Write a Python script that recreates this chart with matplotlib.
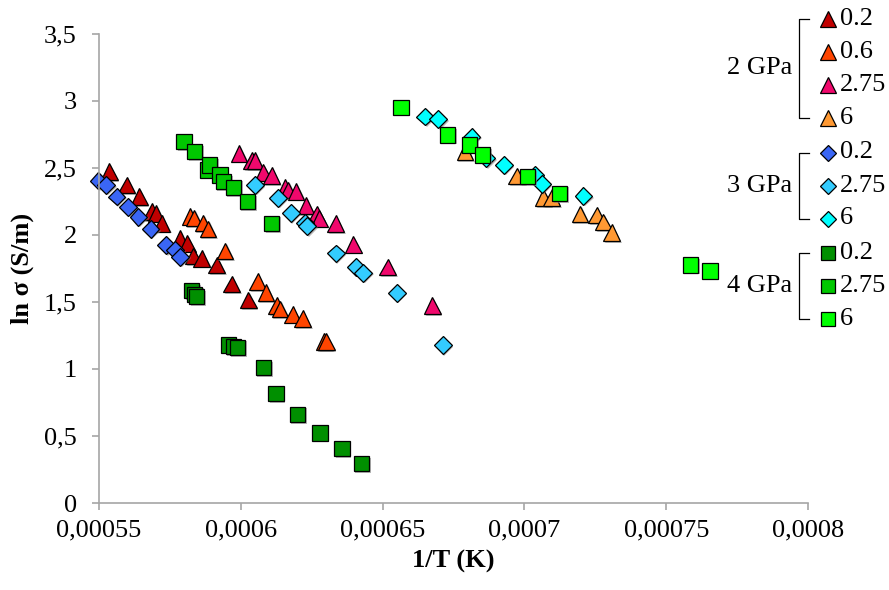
import matplotlib
matplotlib.use("Agg")
from matplotlib import pyplot as plt
from matplotlib import patheffects as pe
from matplotlib.ticker import FixedLocator, FixedFormatter

plt.rcParams['font.family'] = ['Liberation Serif', 'DejaVu Serif']

# 2 GPa
x_2_02 = [0.0005536, 0.0005598, 0.0005642, 0.0005686, 0.0005701, 0.0005721, 0.0005786,
          0.0005811, 0.0005833, 0.0005862, 0.0005915, 0.0005968, 0.0006026]
y_2_02 = [2.47, 2.371, 2.284, 2.172, 2.160, 2.085, 1.973, 1.936, 1.841, 1.824, 1.774, 1.632, 1.513]

x_2_06 = [0.0005821, 0.0005835, 0.0005867, 0.0005884, 0.0005944, 0.0006060, 0.0006089,
          0.0006127, 0.0006138, 0.0006183, 0.0006218, 0.0006294, 0.0006302]
y_2_06 = [2.136, 2.125, 2.087, 2.043, 1.878, 1.651, 1.569, 1.472, 1.446, 1.406, 1.375, 1.203, 1.203]

x_2_275 = [0.0005994, 0.0006038, 0.0006050, 0.0006079, 0.0006109, 0.0006156, 0.0006167,
           0.0006195, 0.0006230, 0.0006268, 0.0006277, 0.0006335, 0.0006397, 0.0006518, 0.0006675]
y_2_275 = [2.607, 2.552, 2.552, 2.466, 2.440, 2.354, 2.334, 2.324, 2.216, 2.154, 2.122,
           2.082, 1.928, 1.759, 1.470]

x_2_6 = [0.0006791, 0.0006973, 0.0007067, 0.0007096, 0.0007196, 0.0007255, 0.0007278, 0.0007308]
y_2_6 = [2.619, 2.438, 2.276, 2.276, 2.154, 2.147, 2.095, 2.015]

# 3 GPa
x_3_02 = [0.0005498, 0.0005525, 0.0005562, 0.0005603, 0.0005639, 0.0005682, 0.0005736,
          0.0005768, 0.0005786]
y_3_02 = [2.403, 2.371, 2.284, 2.209, 2.134, 2.043, 1.923, 1.886, 1.836]

x_3_275 = [0.0006050, 0.0006132, 0.0006176, 0.0006226, 0.0006234, 0.0006335, 0.0006406,
           0.0006432, 0.0006550, 0.0006712]
y_3_275 = [2.371, 2.276, 2.160, 2.085, 2.065, 1.861, 1.761, 1.716, 1.567, 1.177]

x_3_6 = [0.0006650, 0.0006696, 0.0006814, 0.0006865, 0.0006928, 0.0007037, 0.0007061, 0.0007208]
y_3_6 = [2.881, 2.861, 2.731, 2.570, 2.520, 2.446, 2.376, 2.289]

# 4 GPa
x_4_02 = [0.0005827, 0.0005838, 0.0005844, 0.0005956, 0.0005974, 0.0005988, 0.0006079,
          0.0006124, 0.0006199, 0.0006279, 0.0006357, 0.0006425]
y_4_02 = [1.582, 1.557, 1.537, 1.177, 1.164, 1.160, 1.010, 0.816, 0.660, 0.522, 0.406, 0.294]

x_4_275 = [0.0005800, 0.0005838, 0.0005883, 0.0005889, 0.0005927, 0.0005938, 0.0005974,
           0.0006023, 0.0006109]
y_4_275 = [2.694, 2.619, 2.483, 2.520, 2.446, 2.396, 2.354, 2.246, 2.085]

x_4_6 = [0.0006565, 0.0006729, 0.0006806, 0.0006853, 0.0007012, 0.0007125, 0.0007586, 0.0007654]
y_4_6 = [2.951, 2.744, 2.669, 2.595, 2.433, 2.309, 1.774, 1.729]

xticks = [0.00055, 0.0006, 0.00065, 0.0007, 0.00075, 0.0008]
xtick_labels = ['0,00055', '0,0006', '0,00065', '0,0007', '0,00075', '0,0008']
yticks = [0, 0.5, 1, 1.5, 2, 2.5, 3, 3.5]
ytick_labels = ['0', '0,5', '1', '1,5', '2', '2,5', '3', '3,5']

# (group, label, x, y, marker, colour, size)
series = [
    ('2 GPa', '0.2', x_2_02, y_2_02, '^', '#C00000', 12),
    ('2 GPa', '0.6', x_2_06, y_2_06, '^', '#FF4500', 12),
    ('2 GPa', '2.75', x_2_275, y_2_275, '^', '#F0086C', 12),
    ('2 GPa', '6', x_2_6, y_2_6, '^', '#FF9933', 12),
    ('3 GPa', '0.2', x_3_02, y_3_02, 'D', '#3A66F5', 9),
    ('3 GPa', '2.75', x_3_275, y_3_275, 'D', '#33CCFF', 9),
    ('3 GPa', '6', x_3_6, y_3_6, 'D', '#00FFFF', 9),
    ('4 GPa', '0.2', x_4_02, y_4_02, 's', '#008F00', 11),
    ('4 GPa', '2.75', x_4_275, y_4_275, 's', '#00C800', 11),
    ('4 GPa', '6', x_4_6, y_4_6, 's', '#00FF00', 11),
]

shadow = [pe.SimplePatchShadow(offset=(1.2, -1.2), shadow_rgbFace='#888888', alpha=0.6), pe.Normal()]

fig = plt.figure(figsize=(8.89, 5.90), dpi=100)
ax = fig.add_axes([99 / 889, 1 - 503 / 590, (808 - 99) / 889, (503 - 33.5) / 590])

for g, lab, xs, ys, m, c, ms in series:
    ax.plot(xs, ys, linestyle='none', marker=m, markersize=ms, markerfacecolor=c,
            markeredgecolor='black', markeredgewidth=0.9, path_effects=shadow, clip_on=False)

ax.set_xlim(0.00055, 0.0008)
ax.set_ylim(0, 3.5)
ax.xaxis.set_major_locator(FixedLocator(xticks))
ax.xaxis.set_major_formatter(FixedFormatter(xtick_labels))
ax.yaxis.set_major_locator(FixedLocator(yticks))
ax.yaxis.set_major_formatter(FixedFormatter(ytick_labels))

for s in ['top', 'right']:
    ax.spines[s].set_visible(False)
for s in ['left', 'bottom']:
    ax.spines[s].set_color('#A6A6A6')
    ax.spines[s].set_linewidth(1.2)
ax.tick_params(axis='both', direction='out', length=5, width=1.2, color='#A6A6A6',
               labelsize=19, labelcolor='black')
ax.tick_params(axis='x', pad=7)
ax.tick_params(axis='y', pad=11)

ax.set_xlabel('1/T (K)', fontsize=19, fontweight='bold', labelpad=6)
ax.set_ylabel('ln σ (S/m)', fontsize=19, fontweight='bold', labelpad=7)

# custom grouped legend drawn in pixel coordinates
lax = fig.add_axes([0, 0, 1, 1], facecolor='none')
lax.set_xlim(0, 889)
lax.set_ylim(590, 0)
lax.axis('off')

row_y = 19
gap = 33
groups = {}
for g, lab, xs, ys, m, c, ms in series:
    lax.plot([827.5], [row_y], linestyle='none', marker=m, markersize=ms * 0.95,
             markerfacecolor=c, markeredgecolor='black', markeredgewidth=0.9)
    lax.text(840, row_y, lab, fontsize=19, va='center', ha='left')
    groups.setdefault(g, []).append(row_y)
    row_y += gap + (1.5 if lab == '6' else 0)

for g, ys in groups.items():
    top, bot = ys[0], ys[-1]
    lax.plot([809, 799, 799, 809], [top, top, bot, bot], color='black', linewidth=0.9)
    lax.text(760, (top + bot) / 2, g, fontsize=19, va='center', ha='center')

fig.savefig('out.png', dpi=100)
